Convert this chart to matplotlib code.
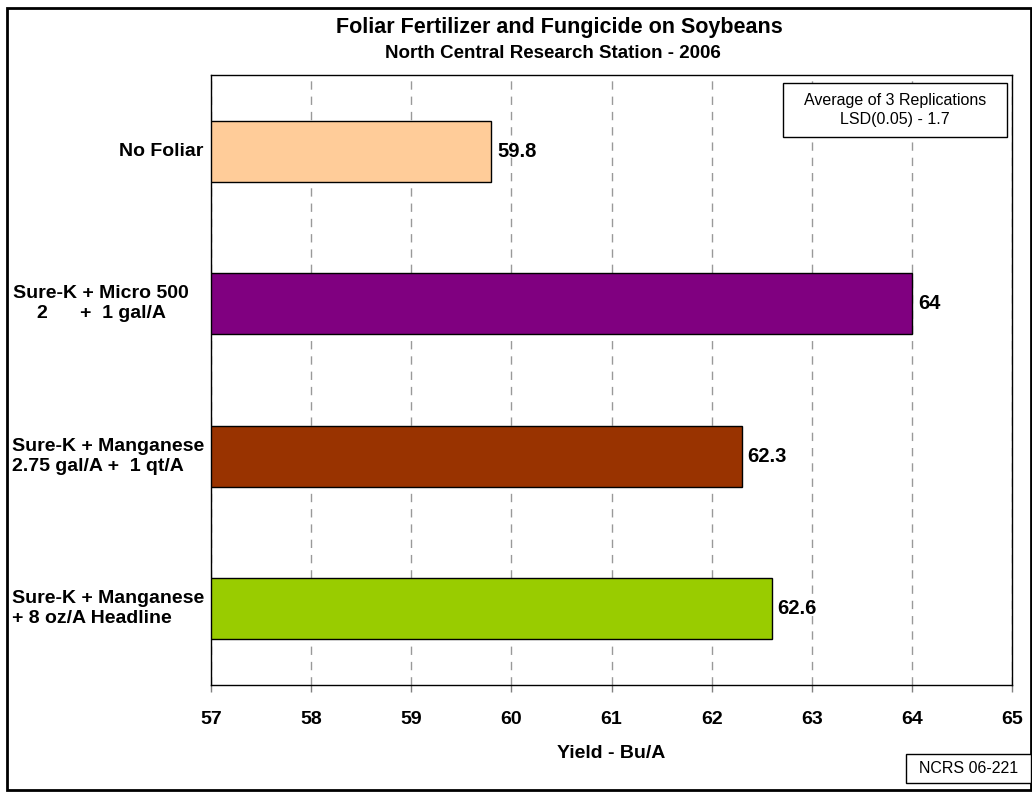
import matplotlib
matplotlib.use('Agg')
from matplotlib import pyplot as plt
from matplotlib.patches import Rectangle

plt.rcParams['font.family'] = ['Liberation Sans', 'DejaVu Sans']

# data
treatments = ['No Foliar',
              'Sure-K + Micro 500\n2      +  1 gal/A',
              'Sure-K + Manganese\n2.75 gal/A +  1 qt/A',
              'Sure-K + Manganese\n+ 8 oz/A Headline']
yields = [59.8, 64, 62.3, 62.6]
value_labels = ['59.8', '64', '62.3', '62.6']
colors = ['#FFCC99', '#800080', '#993300', '#99CC00']
xticks = [57, 58, 59, 60, 61, 62, 63, 64, 65]

# label placement (axes fraction) and alignment for the category labels
label_x = [-0.0625, -0.137, -0.248, -0.248]
label_ha = ['center', 'center', 'left', 'left']

W, H = 1032, 793
fig = plt.figure(figsize=(W/100, H/100), dpi=100)
ax = fig.add_axes([211/W, 1 - 685/H, 801/W, 610/H])

pos = list(range(len(treatments)))
ax.barh(pos, [v - 57 for v in yields], left=57, height=0.4, color=colors,
        edgecolor='black', linewidth=1, zorder=3)

ax.set_xlim(57, 65)
ax.set_ylim(3.5, -0.5)
ax.set_xticks(xticks)
ax.set_xticklabels([str(t) for t in xticks], fontsize=14, fontweight='bold')
ax.tick_params(axis='x', direction='out', length=5, width=1, color='#808080', pad=14)
ax.set_yticks([])
ax.xaxis.grid(True, linestyle=(0, (6, 5)), color='#999999', linewidth=1, zorder=0)
for s in ax.spines.values():
    s.set_color('black')
    s.set_linewidth(1)

for p, v, lab in zip(pos, yields, value_labels):
    ax.text(v + 0.06, p, lab, va='center', ha='left', fontsize=14.5, fontweight='bold')

for p, lab, lx, ha in zip(pos, treatments, label_x, label_ha):
    ax.text(lx, p, lab, transform=ax.get_yaxis_transform(), va='center', ha=ha,
            multialignment=ha if ha == 'left' else 'center',
            fontsize=14, fontweight='bold', linespacing=1.2)

ax.set_xlabel('Yield - Bu/A', fontsize=14, fontweight='bold', labelpad=12)

fig.text(0.542, 1 - 28/H, 'Foliar Fertilizer and Fungicide on Soybeans',
         ha='center', va='center', fontsize=15.5, fontweight='bold')
fig.text(0.536, 1 - 54/H, 'North Central Research Station - 2006',
         ha='center', va='center', fontsize=13.5, fontweight='bold')


def note_box(x0, y0, x1, y1, txt):
    fig.patches.append(Rectangle((x0/W, 1 - y1/H), (x1 - x0)/W, (y1 - y0)/H,
                                 transform=fig.transFigure, fc='white',
                                 ec='black', lw=1, zorder=5))
    fig.text((x0 + x1)/2/W, 1 - (y0 + y1)/2/H, txt, ha='center', va='center',
             fontsize=11.5, linespacing=1.3, zorder=6)


note_box(783, 83, 1007, 137, 'Average of 3 Replications\nLSD(0.05) - 1.7')
note_box(906, 754, 1031, 783, 'NCRS 06-221')

# outer frame
fig.patches.append(Rectangle((7/W, 3/H), 1 - 8/W, 1 - 11/H,
                             transform=fig.transFigure, fill=False,
                             ec='black', lw=2))

fig.savefig('out.png', dpi=100)
